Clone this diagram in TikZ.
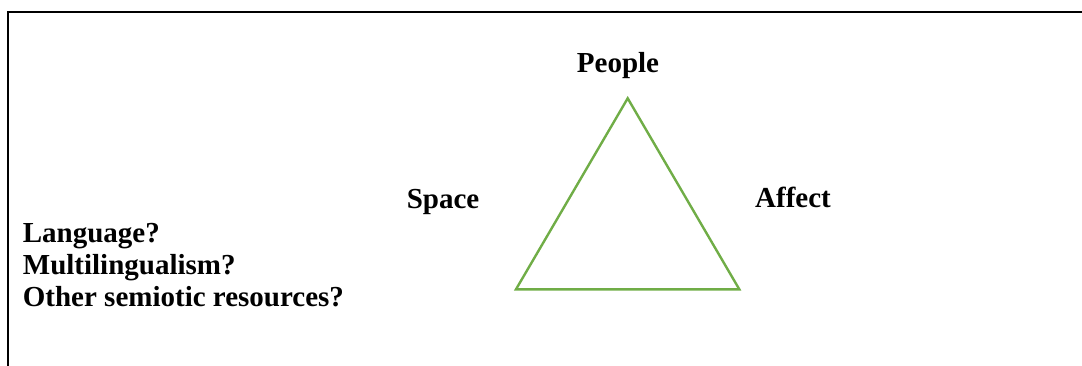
\documentclass[tikz,border=0pt]{standalone}
\usepackage{fontspec}
\setmainfont{Liberation Serif}
\definecolor{trigreen}{HTML}{70AD47}
\tikzset{
  lbl/.style={inner sep=0pt, anchor=base, font=\bfseries\fontsize{29}{31}\selectfont},
  lbll/.style={lbl, anchor=base west},
  frame/.style={line width=2.2pt, black},
  tri/.style={line width=2.4pt, trigreen, line join=miter}
}
\begin{document}
\begin{tikzpicture}[x=1pt,y=-1pt]
\useasboundingbox (0,0) rectangle (1082,365);
\coordinate (fb) at (8,366);
\coordinate (fc) at (8,12);
\coordinate (fr) at (1083,12);
\draw[frame] (fb) -- (fc) -- (fr);
\coordinate (top) at (627.7,98.3);
\coordinate (bl) at (516,289.3);
\coordinate (br) at (739.3,289.3);
\draw[tri] (top) -- (br) -- (bl) -- cycle;
\node[lbl] (people) at (618,72.5) {People};
\node[lbl] (space) at (443,208) {Space};
\node[lbl] (affect) at (793,207.5) {Affect};
\node[lbll] (l1) at (22.7,242) {Language?};
\node[lbll] (l2) at (22.7,274) {Multilingualism?};
\node[lbll] (l3) at (22.7,306) {Other semiotic resources?};
\end{tikzpicture}
\end{document}
